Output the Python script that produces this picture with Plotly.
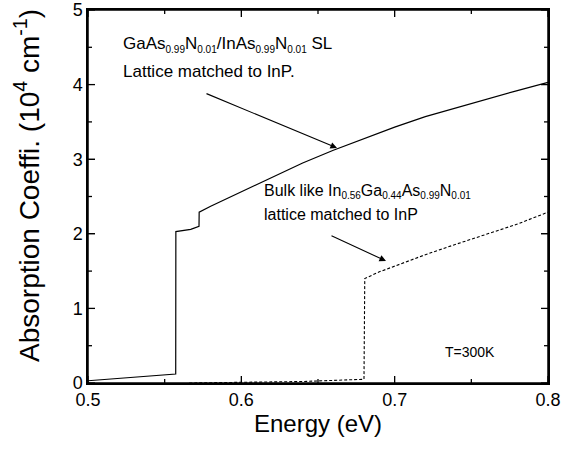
import plotly.graph_objects as go

# Superlattice GaAsN/InAsN (solid)
sl_energy = [0.500, 0.5572, 0.5573, 0.562, 0.567, 0.5724, 0.5725, 0.580, 0.600, 0.620, 0.640,
             0.660, 0.680, 0.700, 0.720, 0.740, 0.760, 0.780, 0.800]
sl_alpha = [0.03, 0.12, 2.03, 2.04, 2.06, 2.10, 2.29, 2.37, 2.56, 2.76, 2.95,
            3.12, 3.28, 3.43, 3.57, 3.69, 3.81, 3.92, 4.03]

# Bulk-like InGaAsN (dashed)
bulk_energy = [0.566, 0.600, 0.640, 0.680, 0.6805, 0.690, 0.700, 0.710, 0.720, 0.740,
               0.760, 0.780, 0.800]
bulk_alpha = [0.00, 0.01, 0.02, 0.05, 1.40, 1.49, 1.57, 1.65, 1.72, 1.86,
              1.99, 2.13, 2.29]

x_ticks = [0.5, 0.6, 0.7, 0.8]
x_minor = [0.55, 0.65, 0.75]
y_ticks = [0, 1, 2, 3, 4, 5]
y_minor = [0.5, 1.5, 2.5, 3.5, 4.5]

font_family = "Liberation Sans, Arial, sans-serif"

fig = go.Figure()
fig.add_trace(go.Scatter(x=sl_energy, y=sl_alpha, mode="lines",
                         line=dict(color="black", width=1.2), showlegend=False))
fig.add_trace(go.Scatter(x=bulk_energy, y=bulk_alpha, mode="lines",
                         line=dict(color="black", width=1.1, dash="3px,2px"), showlegend=False))

axis_common = dict(showline=True, linecolor="black", linewidth=1.5, mirror="allticks",
                   ticks="inside", ticklen=7, tickwidth=1.3, tickcolor="black",
                   showgrid=False, zeroline=False, automargin=False, ticklabeloverflow="allow",
                   tickfont=dict(family=font_family, size=18, color="black"))

fig.update_xaxes(range=[0.5, 0.8], tickvals=x_ticks, ticktext=[str(v) for v in x_ticks],
                 **axis_common)
fig.update_yaxes(range=[0, 5], tickvals=y_ticks, ticktext=[str(v) for v in y_ticks],
                 **axis_common)

# frame around the plot area
fig.add_shape(type="rect", xref="paper", yref="paper", x0=0, x1=1, y0=0, y1=1,
              line=dict(color="black", width=1.5), fillcolor="rgba(0,0,0,0)", layer="above")

# inside tick marks on all four sides (drawn from the tick lists)
tick_line = dict(color="black", width=1.3)
for vals, ln in [(x_ticks, 7), (x_minor, 4)]:
    for v in vals:
        fig.add_shape(type="line", xref="x", yref="y domain", x0=v, x1=v, y0=0, y1=ln / 373,
                      line=tick_line, layer="above")
        fig.add_shape(type="line", xref="x", yref="y domain", x0=v, x1=v, y0=1, y1=1 - ln / 373,
                      line=tick_line, layer="above")
for vals, ln in [(y_ticks, 7), (y_minor, 4)]:
    for v in vals:
        fig.add_shape(type="line", xref="x domain", yref="y", x0=0, x1=ln / 460, y0=v, y1=v,
                      line=tick_line, layer="above")
        fig.add_shape(type="line", xref="x domain", yref="y", x0=1, x1=1 - ln / 460, y0=v, y1=v,
                      line=tick_line, layer="above")

# page pixel -> paper coordinates (plot area spans x 88..548, y 10..383 on the page)
def px(xp, yp):
    return (xp - 88) / 460, 1 - (yp - 10) / 373

def sub(s):
    return "<sub><span style='font-size:10px'>" + s + "</span></sub>"

ann_font = dict(family=font_family, size=17, color="black")
texts = [
    (121, 45, "GaAs" + sub("0.99") + "N" + sub("0.01") + "/InAs" + sub("0.99") + "N" + sub("0.01") + " SL", 17),
    (121, 71, "Lattice matched to InP.", 17),
    (262, 191, "Bulk like In" + sub("0.56") + "Ga" + sub("0.44") + "As" + sub("0.99") + "N" + sub("0.01"), 16),
    (262, 214, "lattice matched to InP", 16),
    (443, 352, "T=300K", 14),
]
anns = []
for (xp, yp, t, sz) in texts:
    xx, yy = px(xp, yp)
    f = dict(ann_font)
    f["size"] = sz
    anns.append(dict(xref="paper", yref="paper", x=xx, y=yy, text=t, showarrow=False,
                     xanchor="left", yanchor="middle", font=f))

# axis titles
xx, yy = px(318, 423)
anns.append(dict(xref="paper", yref="paper", x=xx, y=yy, text="Energy (eV)", showarrow=False,
                 xanchor="center", yanchor="middle",
                 font=dict(family=font_family, size=24, color="black")))
xx, yy = px(27, 186)
anns.append(dict(xref="paper", yref="paper", x=xx, y=yy,
                 text="Absorption Coeffi. (10<sup>4</sup> cm<sup>-1</sup>)", showarrow=False,
                 textangle=-90, xanchor="center", yanchor="middle",
                 font=dict(family=font_family, size=28, color="black")))

# arrows
for (x0, y0, x1, y1) in [(205, 93, 337, 148), (330, 235, 386, 261)]:
    ax, ay = px(x0, y0)
    tx, ty = px(x1, y1)
    anns.append(dict(xref="x domain", yref="y domain", x=tx, y=ty,
                     axref="x domain", ayref="y domain",
                     ax=ax, ay=ay, text="", showarrow=True, arrowhead=2, arrowsize=1.2,
                     arrowwidth=1.1, arrowcolor="black"))

fig.update_layout(width=579, height=457, margin=dict(l=88, r=31, t=10, b=74, autoexpand=False),
                  plot_bgcolor="white", paper_bgcolor="white", annotations=anns,
                  font=dict(family=font_family, color="black"))

# remove the browser's default body margin so the figure sits at the page origin
fig.write_html("out.html", config={"displayModeBar": False},
               post_script="document.body.style.margin='0';document.body.style.overflow='hidden';")
